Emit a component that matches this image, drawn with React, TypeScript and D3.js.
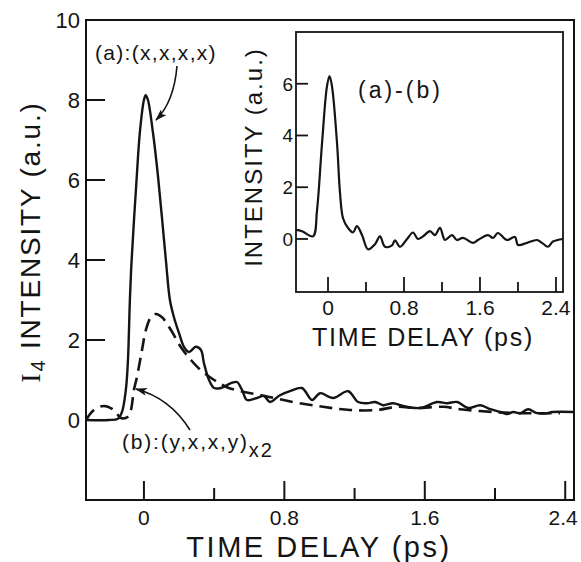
import React from 'react';
import * as d3 from 'd3';

// main plot, curve (a): (x,x,x,x)
const timeA = [-0.33, -0.2, -0.148, -0.125, -0.103, -0.091, -0.08, -0.07, -0.042, -0.023, 0.0, 0.01, 0.023, 0.051, 0.08, 0.125, 0.148, 0.171, 0.2, 0.228, 0.257, 0.296, 0.325, 0.342, 0.371, 0.4, 0.439, 0.496, 0.53, 0.559, 0.587, 0.644, 0.684, 0.718, 0.775, 0.832, 0.9, 0.958, 1.003, 1.078, 1.163, 1.22, 1.271, 1.317, 1.363, 1.42, 1.477, 1.574, 1.67, 1.727, 1.785, 1.847, 1.916, 1.973, 2.03, 2.07, 2.104, 2.144, 2.189, 2.24, 2.298, 2.326, 2.45];
const valuesA = [0, 0, 0.03, 0.2, 0.75, 1.5, 3.0, 4.0, 6.0, 7.2, 8.0, 8.12, 8.0, 7.2, 6.1, 4.0, 3.0, 2.57, 2.17, 1.83, 1.7, 1.83, 1.75, 1.42, 1.0, 0.8, 0.8, 0.92, 0.95, 0.75, 0.5, 0.55, 0.6, 0.45, 0.62, 0.72, 0.8, 0.5, 0.67, 0.55, 0.72, 0.45, 0.42, 0.45, 0.37, 0.42, 0.35, 0.3, 0.45, 0.42, 0.45, 0.3, 0.37, 0.27, 0.2, 0.15, 0.2, 0.17, 0.27, 0.17, 0.17, 0.2, 0.2];

// main plot, curve (b): (y,x,x,y) x2
const timeB = [-0.33, -0.285, -0.228, -0.171, -0.131, -0.091, -0.074, -0.057, -0.04, -0.011, 0.011, 0.04, 0.068, 0.103, 0.154, 0.211, 0.268, 0.325, 0.4, 0.473, 0.57, 0.667, 0.85, 1.02, 1.174, 1.328, 1.442, 1.556, 1.705, 1.8, 1.99, 2.144, 2.37];
const valuesB = [0.0, 0.25, 0.35, 0.25, 0.05, 0.08, 0.25, 0.75, 1.07, 1.75, 2.25, 2.57, 2.65, 2.57, 2.25, 1.82, 1.5, 1.24, 1.0, 0.82, 0.7, 0.62, 0.45, 0.33, 0.25, 0.25, 0.33, 0.3, 0.33, 0.27, 0.2, 0.17, 0.17];

// inset, (a)-(b)
const timeDiff = [-0.337, -0.274, -0.158, -0.116, -0.063, -0.011, 0.016, 0.042, 0.095, 0.126, 0.158, 0.21, 0.263, 0.305, 0.358, 0.421, 0.495, 0.547, 0.6, 0.674, 0.705, 0.758, 0.832, 0.895, 0.947, 1.0, 1.074, 1.126, 1.179, 1.232, 1.305, 1.358, 1.421, 1.526, 1.579, 1.684, 1.737, 1.789, 1.884, 1.968, 2.0, 2.095, 2.2, 2.253, 2.316, 2.368, 2.474];
const valuesDiff = [0.35, 0.3, 0.1, 1.1, 3.7, 5.9, 6.3, 5.9, 3.7, 1.8, 0.8, 0.43, 0.25, 0.5, 0.15, -0.4, -0.2, 0.1, -0.3, -0.25, -0.05, -0.3, 0.0, 0.25, 0.0, 0.1, 0.3, 0.15, 0.43, -0.04, 0.15, -0.04, 0.04, -0.15, -0.04, 0.15, 0.04, 0.23, -0.04, 0.08, -0.23, -0.15, -0.04, -0.15, -0.3, -0.1, 0];

const xMajor = [0, 0.8, 1.6, 2.4];
const xMinor = [0.4, 1.2, 2.0];
const mainYTicks = [0, 2, 4, 6, 8];
const mainYLabels = [0, 2, 4, 6, 8, 10];
const insetYTicks = [0, 2, 4, 6];

const font = '"Liberation Sans", Arial, sans-serif';
const ink = '#141414';

export default function App() {
  const W = 581, H = 562;
  // main frame
  const x = d3.scaleLinear().domain([-0.33, 2.45]).range([86, 574]);
  const y = d3.scaleLinear().domain([-2, 10]).range([500, 20]);
  // inset frame
  const ix = d3.scaleLinear().domain([-0.337, 2.474]).range([296, 563]);
  const iy = d3.scaleLinear().domain([-2.05, 8]).range([292, 32]);

  const line = (sx: any, sy: any) =>
    d3.line<[number, number]>()
      .x(d => sx(d[0]))
      .y(d => sy(d[1]))
      .curve(d3.curveCatmullRom.alpha(0.5));

  const dataA = timeA.map((t, i) => [t, valuesA[i]] as [number, number]);
  const dataB = timeB.map((t, i) => [t, valuesB[i]] as [number, number]);
  const dataD = timeDiff.map((t, i) => [t, valuesDiff[i]] as [number, number]);

  const fmt = (v: number) => (v === 0 ? '0' : String(v));

  return (
    <svg width={W} height={H} style={{ position: 'absolute', left: 0, top: 0, background: '#fff' }}
      fontFamily={font} fill={ink}>
      <defs>
        <marker id="arr" viewBox="0 0 12 8" refX="11" refY="4" markerWidth="12" markerHeight="8"
          markerUnits="userSpaceOnUse" orient="auto">
          <path d="M0,0 L12,4 L0,8 L3,4 z" fill={ink} />
        </marker>
      </defs>

      {/* main frame */}
      <rect x={x.range()[0]} y={y.range()[1]} width={x.range()[1] - x.range()[0]}
        height={y.range()[0] - y.range()[1]} fill="none" stroke={ink} strokeWidth={2} />

      {/* main ticks */}
      {xMajor.map(t => (
        <line key={'xM' + t} x1={x(t)} x2={x(t)} y1={y(-2)} y2={y(-2) - 19} stroke={ink} strokeWidth={2} />
      ))}
      {xMinor.map(t => (
        <line key={'xm' + t} x1={x(t)} x2={x(t)} y1={y(-2)} y2={y(-2) - 12} stroke={ink} strokeWidth={2} />
      ))}
      {mainYTicks.map(v => (
        <line key={'y' + v} x1={x(-0.33)} x2={x(-0.33) + 19} y1={y(v)} y2={y(v)} stroke={ink} strokeWidth={2} />
      ))}
      {mainYLabels.map(v => (
        <text key={'yl' + v} x={80} y={y(v) + 8} textAnchor="end" fontSize={22}>{fmt(v)}</text>
      ))}
      {xMajor.map(t => (
        <text key={'xl' + t} x={t === 2.4 ? x(t) - 2 : x(t)} y={525} textAnchor="middle" fontSize={21}>{fmt(t)}</text>
      ))}
      <text x={319} y={557} textAnchor="middle" fontSize={29} letterSpacing={2.5}>TIME DELAY (ps)</text>
      <text transform="translate(40,242) rotate(-90)" textAnchor="middle" fontSize={28} letterSpacing={1.8}>
        <tspan fontFamily='"Liberation Serif", serif'>I</tspan>
        <tspan fontSize={20} dy={5}>4</tspan>
        <tspan dy={-5}> INTENSITY (a.u.)</tspan>
      </text>

      {/* curves */}
      <path d={line(x, y)(dataA) || ''} fill="none" stroke={ink} strokeWidth={2.4} strokeLinejoin="round" />
      <path d={line(x, y)(dataB) || ''} fill="none" stroke={ink} strokeWidth={2.6}
        strokeDasharray="13 7" strokeLinejoin="round" />

      {/* annotations */}
      <text x={95} y={60} fontSize={21} letterSpacing={1.3}>(a):(x,x,x,x)</text>
      <path d="M177,66 Q174,102 156,120" fill="none" stroke={ink} strokeWidth={1.6} markerEnd="url(#arr)" />
      <text x={122} y={449} fontSize={21} letterSpacing={1.8}>(b):(y,x,x,y)<tspan fontSize={20} dy={8}>x2</tspan></text>
      <path d="M190,430 Q170,398 136,389" fill="none" stroke={ink} strokeWidth={1.6} markerEnd="url(#arr)" />

      {/* inset */}
      <rect x={ix.range()[0]} y={iy.range()[1]} width={ix.range()[1] - ix.range()[0]}
        height={iy.range()[0] - iy.range()[1]} fill="#fff" stroke={ink} strokeWidth={1.8} />
      {xMajor.map(t => (
        <line key={'ixM' + t} x1={ix(t)} x2={ix(t)} y1={iy.range()[0]} y2={iy.range()[0] - 15} stroke={ink} strokeWidth={1.8} />
      ))}
      {xMinor.map(t => (
        <line key={'ixm' + t} x1={ix(t)} x2={ix(t)} y1={iy.range()[0]} y2={iy.range()[0] - 10} stroke={ink} strokeWidth={1.8} />
      ))}
      {insetYTicks.map(v => (
        <line key={'iy' + v} x1={ix.range()[0]} x2={ix.range()[0] + 12} y1={iy(v)} y2={iy(v)} stroke={ink} strokeWidth={1.8} />
      ))}
      {insetYTicks.map(v => (
        <text key={'iyl' + v} x={293} y={iy(v) + 7} textAnchor="end" fontSize={19}>{fmt(v)}</text>
      ))}
      {xMajor.map(t => (
        <text key={'ixl' + t} x={ix(t)} y={315} textAnchor="middle" fontSize={21}>{fmt(t)}</text>
      ))}
      <text x={423} y={346} textAnchor="middle" fontSize={25} letterSpacing={1.7}>TIME DELAY (ps)</text>
      <text transform="translate(262,157) rotate(-90)" textAnchor="middle" fontSize={24} letterSpacing={2}>INTENSITY (a.u.)</text>
      <text x={358} y={98} fontSize={23} letterSpacing={3}>(a)-(b)</text>
      <path d={line(ix, iy)(dataD) || ''} fill="none" stroke={ink} strokeWidth={2.2} strokeLinejoin="round" />
    </svg>
  );
}
